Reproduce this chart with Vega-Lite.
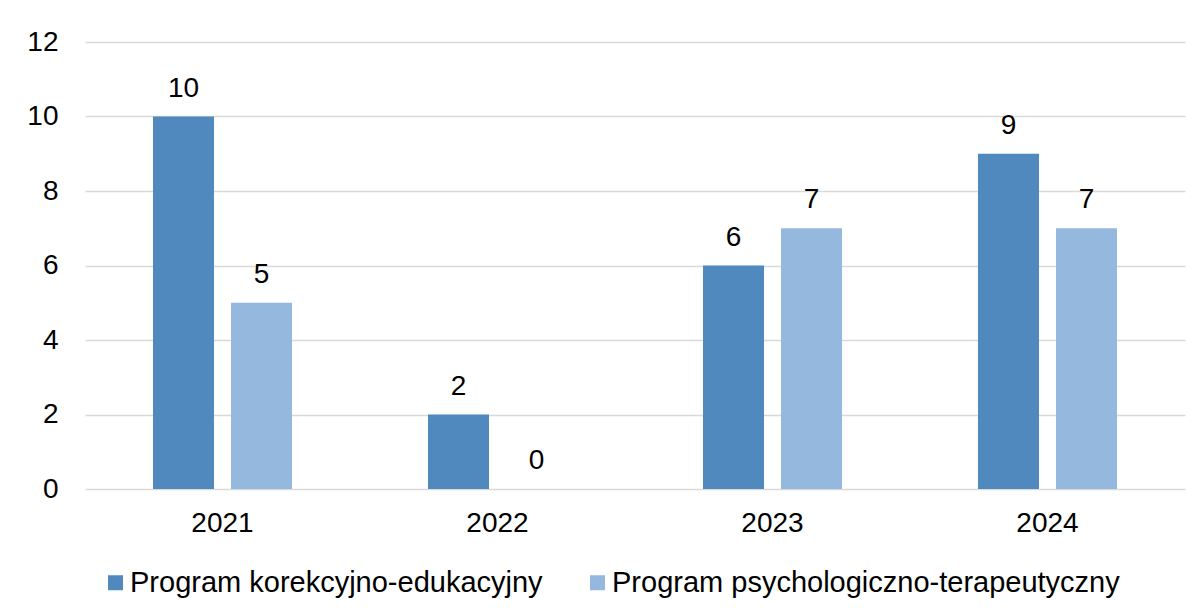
{
  "$schema": "https://vega.github.io/schema/vega-lite/v6.json",
  "width": 1100,
  "height": 447,
  "autosize": {"type": "none"},
  "padding": {"left": 85, "top": 42, "right": 17, "bottom": 125},
  "background": "white",
  "data": {
    "values": [
      {"year": "2021", "program": "Program korekcyjno-edukacyjny", "value": 10},
      {"year": "2021", "program": "Program psychologiczno-terapeutyczny", "value": 5},
      {"year": "2022", "program": "Program korekcyjno-edukacyjny", "value": 2},
      {"year": "2022", "program": "Program psychologiczno-terapeutyczny", "value": 0},
      {"year": "2023", "program": "Program korekcyjno-edukacyjny", "value": 6},
      {"year": "2023", "program": "Program psychologiczno-terapeutyczny", "value": 7},
      {"year": "2024", "program": "Program korekcyjno-edukacyjny", "value": 9},
      {"year": "2024", "program": "Program psychologiczno-terapeutyczny", "value": 7}
    ]
  },
  "config": {
    "font": "Liberation Sans",
    "view": {"stroke": null},
    "axis": {"labelFont": "Liberation Sans", "labelColor": "#000000"}
  },
  "encoding": {
    "x": {
      "field": "year",
      "type": "nominal",
      "scale": {"paddingInner": 0.4945, "paddingOuter": 0.2473},
      "axis": {
        "title": null,
        "labelAngle": 0,
        "labelFontSize": 28,
        "labelPadding": 20,
        "ticks": false,
        "domain": false,
        "grid": false
      }
    },
    "xOffset": {
      "field": "program",
      "type": "nominal",
      "scale": {"paddingInner": 0.218, "paddingOuter": 0}
    },
    "y": {
      "field": "value",
      "type": "quantitative",
      "scale": {"domain": [0, 12], "nice": false},
      "axis": {
        "title": null,
        "values": [0, 2, 4, 6, 8, 10, 12],
        "labelFontSize": 28,
        "labelPadding": 27,
        "ticks": false,
        "domain": false,
        "grid": true,
        "gridColor": "#d9d9d9",
        "gridWidth": 1.5
      }
    }
  },
  "layer": [
    {
      "mark": {"type": "bar"},
      "encoding": {
        "color": {
          "field": "program",
          "type": "nominal",
          "scale": {
            "domain": ["Program korekcyjno-edukacyjny", "Program psychologiczno-terapeutyczny"],
            "range": ["#4f89bd", "#95b8de"]
          },
          "legend": {
            "title": null,
            "orient": "none",
            "direction": "horizontal",
            "legendX": 16,
            "legendY": 526,
            "padding": 0,
            "symbolType": "square",
            "symbolSize": 225,
            "symbolStrokeWidth": 0,
            "labelFontSize": 29,
            "labelColor": "#000000",
            "labelFont": "Liberation Sans",
            "labelLimit": 0,
            "columnPadding": 40,
            "symbolOffset": 0,
            "labelOffset": 0
          }
        }
      }
    },
    {
      "mark": {"type": "text", "baseline": "alphabetic", "dy": -20, "fontSize": 28, "color": "#000000"},
      "encoding": {
        "text": {"field": "value", "type": "quantitative"}
      }
    }
  ]
}
